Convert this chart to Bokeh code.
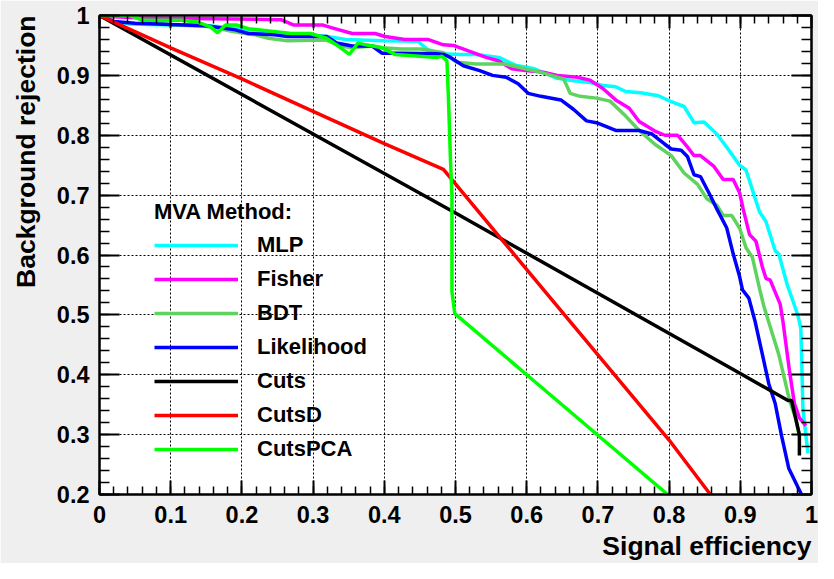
from bokeh.plotting import figure
from bokeh.models import LinearAxis, FixedTicker, Legend, LegendItem, Title, Range1d
from bokeh.embed import file_html
from bokeh.resources import INLINE

# ---------------- data ----------------
methods = ["MLP", "Fisher", "BDT", "Likelihood", "Cuts", "CutsD", "CutsPCA"]
colors = ["#00ffff", "#ff00ff", "#5ed35e", "#0000ff", "#000000", "#ff0000", "#00ff00"]

mlp_x = [0.0, 0.02, 0.04, 0.10, 0.14, 0.19, 0.23, 0.30, 0.32, 0.346, 0.40, 0.447, 0.461, 0.479, 0.507,
         0.529, 0.561, 0.584, 0.611, 0.643, 0.666, 0.689, 0.707, 0.725, 0.739, 0.76, 0.785, 0.803, 0.821,
         0.835, 0.849, 0.867, 0.881, 0.899, 0.908, 0.927, 0.936, 0.949, 0.954, 0.966, 0.981, 0.985, 0.988, 0.995]
mlp_y = [1.0, 0.99, 0.986, 0.984, 0.984, 0.979, 0.971, 0.967, 0.965, 0.960, 0.958, 0.957, 0.943, 0.936, 0.935,
         0.935, 0.930, 0.917, 0.911, 0.895, 0.891, 0.888, 0.883, 0.881, 0.873, 0.871, 0.866, 0.856, 0.848,
         0.821, 0.822, 0.802, 0.780, 0.750, 0.742, 0.672, 0.656, 0.607, 0.602, 0.550, 0.499, 0.477, 0.342, 0.269]

fisher_x = [0.0, 0.02, 0.06, 0.12, 0.19, 0.255, 0.273, 0.314, 0.328, 0.355, 0.387, 0.401, 0.429, 0.461, 0.483,
            0.497, 0.52, 0.543, 0.561, 0.579, 0.598, 0.625, 0.643, 0.671, 0.689, 0.707, 0.725, 0.744, 0.758,
            0.78, 0.794, 0.812, 0.826, 0.835, 0.844, 0.863, 0.876, 0.89, 0.899, 0.904, 0.913, 0.922, 0.931,
            0.936, 0.942, 0.956, 0.96, 0.969, 0.976, 0.983, 0.992]
fisher_y = [1.0, 0.998, 0.996, 0.995, 0.994, 0.993, 0.984, 0.984, 0.979, 0.970, 0.970, 0.965, 0.960, 0.960, 0.951,
            0.950, 0.940, 0.930, 0.924, 0.911, 0.908, 0.905, 0.900, 0.897, 0.892, 0.878, 0.859, 0.845, 0.823,
            0.807, 0.800, 0.800, 0.780, 0.766, 0.766, 0.748, 0.726, 0.726, 0.704, 0.677, 0.634, 0.623, 0.580,
            0.561, 0.558, 0.518, 0.488, 0.407, 0.352, 0.328, 0.315]

bdt_x = [0.0, 0.043, 0.061, 0.084, 0.102, 0.148, 0.165, 0.184, 0.198, 0.218, 0.237, 0.264, 0.319, 0.337, 0.355,
         0.383, 0.397, 0.424, 0.451, 0.483, 0.502, 0.529, 0.57, 0.598, 0.62, 0.643, 0.652, 0.661, 0.675, 0.698,
         0.717, 0.739, 0.758, 0.78, 0.803, 0.821, 0.84, 0.853, 0.867, 0.876, 0.888, 0.899, 0.908, 0.917, 0.928,
         0.933, 0.954, 0.969, 0.978, 0.983]
bdt_y = [1.0, 1.0, 0.992, 0.987, 0.984, 0.982, 0.979, 0.974, 0.971, 0.968, 0.962, 0.958, 0.959, 0.949, 0.946,
         0.949, 0.946, 0.944, 0.944, 0.938, 0.922, 0.919, 0.919, 0.911, 0.905, 0.897, 0.894, 0.870, 0.865, 0.862,
         0.857, 0.832, 0.808, 0.785, 0.766, 0.737, 0.718, 0.694, 0.683, 0.666, 0.666, 0.645, 0.612, 0.596, 0.539,
         0.515, 0.434, 0.358, 0.326, 0.297]

lik_x = [0.0, 0.02, 0.05, 0.10, 0.15, 0.191, 0.209, 0.246, 0.264, 0.319, 0.333, 0.355, 0.383, 0.397, 0.424,
         0.474, 0.483, 0.493, 0.511, 0.534, 0.552, 0.571, 0.588, 0.602, 0.62, 0.648, 0.666, 0.684, 0.698, 0.725,
         0.758, 0.776, 0.794, 0.803, 0.817, 0.826, 0.835, 0.844, 0.858, 0.867, 0.881, 0.89, 0.899, 0.903, 0.912,
         0.921, 0.931, 0.94, 0.949, 0.958, 0.968, 0.981, 0.986]
lik_y = [1.0, 0.99, 0.987, 0.985, 0.983, 0.976, 0.970, 0.968, 0.965, 0.965, 0.954, 0.949, 0.949, 0.937, 0.937,
         0.936, 0.935, 0.930, 0.916, 0.908, 0.900, 0.897, 0.886, 0.870, 0.865, 0.859, 0.843, 0.824, 0.821, 0.808,
         0.808, 0.802, 0.785, 0.777, 0.775, 0.764, 0.734, 0.731, 0.699, 0.677, 0.645, 0.602, 0.564, 0.542, 0.528,
         0.488, 0.434, 0.385, 0.352, 0.298, 0.244, 0.212, 0.200]

cuts_x = [0.0, 0.3, 0.5, 0.9, 0.967, 0.972, 0.983, 0.983]
cuts_y = [1.0, 0.802, 0.670, 0.402, 0.357, 0.357, 0.300, 0.265]

cutsd_x = [0.0, 0.1, 0.2, 0.3, 0.4, 0.483, 0.625, 0.8, 0.858]
cutsd_y = [1.0, 0.946, 0.894, 0.840, 0.786, 0.743, 0.540, 0.291, 0.200]

pca_x = [0.0, 0.047, 0.06, 0.115, 0.138, 0.156, 0.166, 0.177, 0.193, 0.209, 0.269, 0.296, 0.319, 0.333, 0.351,
         0.363, 0.374, 0.397, 0.415, 0.474, 0.481, 0.488, 0.490, 0.493, 0.495, 0.495, 0.499, 0.6, 0.798]
pca_y = [1.0, 1.0, 0.992, 0.992, 0.989, 0.981, 0.971, 0.984, 0.984, 0.978, 0.970, 0.970, 0.962, 0.951, 0.935,
         0.954, 0.951, 0.946, 0.935, 0.930, 0.932, 0.924, 0.865, 0.757, 0.699, 0.539, 0.502, 0.400, 0.200]

series_x = [mlp_x, fisher_x, bdt_x, lik_x, cuts_x, cutsd_x, pca_x]
series_y = [mlp_y, fisher_y, bdt_y, lik_y, cuts_y, cutsd_y, pca_y]

x_ticks = [0.0, 0.1, 0.2, 0.3, 0.4, 0.5, 0.6, 0.7, 0.8, 0.9, 1.0]
x_tick_labels = ["0", "0.1", "0.2", "0.3", "0.4", "0.5", "0.6", "0.7", "0.8", "0.9", "1"]
y_ticks = [0.2, 0.3, 0.4, 0.5, 0.6, 0.7, 0.8, 0.9, 1.0]
y_tick_labels = ["0.2", "0.3", "0.4", "0.5", "0.6", "0.7", "0.8", "0.9", "1"]
x_minor = [round(0.02 * i, 2) for i in range(51)]
y_minor = [round(0.2 + 0.02 * i, 2) for i in range(41)]

x_title = "Signal efficiency"
y_title = "Background rejection"
legend_title = "MVA Method:"

# ---------------- figure ----------------
FONT = "Liberation Sans"

p = figure(width=818, height=563, x_range=Range1d(0, 1), y_range=Range1d(0.2, 1),
           output_backend="svg", toolbar_location=None,
           min_border_left=99, min_border_right=7, min_border_top=15, min_border_bottom=69)
p.background_fill_color = "white"
p.border_fill_color = "#efefef"
p.outline_line_color = "black"
p.outline_line_width = 2

x_ticker = FixedTicker(ticks=x_ticks, minor_ticks=x_minor)
y_ticker = FixedTicker(ticks=y_ticks, minor_ticks=y_minor)


def style_axis(ax, ticker, major_in, minor_in, labels=None):
    ax.ticker = ticker
    ax.axis_line_width = 2
    ax.axis_line_color = "black"
    ax.major_tick_in = major_in
    ax.major_tick_out = 0
    ax.minor_tick_in = minor_in
    ax.minor_tick_out = 0
    ax.major_tick_line_width = 2
    ax.minor_tick_line_width = 1.5
    ax.major_tick_line_color = "black"
    ax.minor_tick_line_color = "black"
    ax.major_label_text_font = FONT
    ax.major_label_text_font_style = "bold"
    ax.major_label_text_color = "black"
    if labels is None:
        ax.major_label_overrides = {t: "" for t in ticker.ticks}
        ax.major_label_text_font_size = "0px"
        ax.major_label_standoff = 0
    else:
        ax.major_label_overrides = dict(zip(ticker.ticks, labels))
        ax.major_label_text_font_size = "23.5px"


xb = p.xaxis[0]
yl = p.yaxis[0]
style_axis(xb, x_ticker, 14, 8, x_tick_labels)
xb.major_label_standoff = 11
style_axis(yl, y_ticker, 20, 10, y_tick_labels)
yl.major_label_standoff = 10

xt_ax = LinearAxis()
style_axis(xt_ax, FixedTicker(ticks=x_ticks, minor_ticks=x_minor), 13, 8)
p.add_layout(xt_ax, "above")
yr_ax = LinearAxis()
style_axis(yr_ax, FixedTicker(ticks=y_ticks, minor_ticks=y_minor), 20, 10)
p.add_layout(yr_ax, "right")

p.xgrid.ticker = x_ticker
p.ygrid.ticker = y_ticker
p.grid.grid_line_color = "black"
p.grid.grid_line_width = 1
p.grid.grid_line_dash = "2 2"

renderers = []
for xs, ys, c in zip(series_x, series_y, colors):
    r = p.line(xs, ys, line_color=c, line_width=3.5)
    renderers.append(r)

legend = Legend(items=[LegendItem(label=m, renderers=[r]) for m, r in zip(methods, renderers)],
                title=legend_title, location=(55, 30),
                glyph_width=84, glyph_height=30, label_height=30, label_width=20,
                label_standoff=19, spacing=4, padding=0, margin=0, title_standoff=5,
                background_fill_alpha=0, border_line_alpha=0,
                label_text_font=FONT, label_text_font_style="bold", label_text_font_size="22px",
                label_text_color="black",
                title_text_font=FONT, title_text_font_style="bold", title_text_font_size="22px",
                title_text_color="black")
p.add_layout(legend)

xtitle = Title(text=x_title, align="right", text_font=FONT, text_font_style="bold",
               text_font_size="26.5px", text_color="black", standoff=6, offset=0)
p.add_layout(xtitle, "below")
ytitle = Title(text=y_title, align="right", vertical_align="top", text_font=FONT,
               text_font_style="bold", text_font_size="26.5px", text_color="black",
               standoff=21, offset=0)
p.add_layout(ytitle, "left")

open("out.html", "w").write(file_html(p, INLINE, title="ROC curves"))
